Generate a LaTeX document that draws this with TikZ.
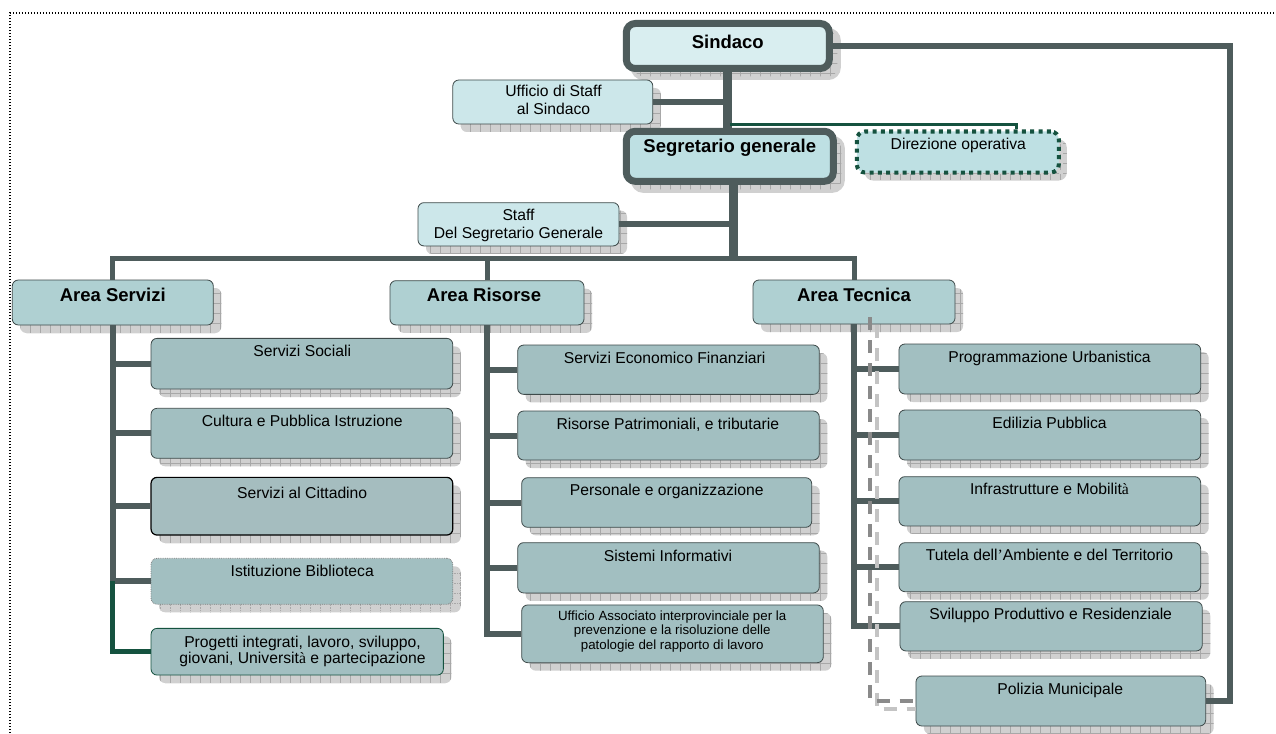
\documentclass[tikz,border=0pt]{standalone}
\usepackage{fontspec}
\setmainfont{Liberation Sans}
\newfontfamily\serifchar{Liberation Serif}
\usetikzlibrary{patterns.meta,shadows}
\definecolor{linec}{HTML}{4E5C5C}
\definecolor{greenc}{HTML}{15523F}
\definecolor{shfill}{HTML}{D0D0D0}
\definecolor{shline}{HTML}{A8A8A8}
\definecolor{bordc}{HTML}{3E4A4A}
\definecolor{fsind}{HTML}{D9EEF0}
\definecolor{fstaff}{HTML}{CCE7EA}
\definecolor{fseg}{HTML}{BEE0E3}
\definecolor{farea}{HTML}{AFD0D2}
\definecolor{funit}{HTML}{A2BFC1}
\definecolor{fcitt}{HTML}{A5BDBF}
\definecolor{dashc}{HTML}{8A8A8A}
\definecolor{dashsh}{HTML}{C4C4C4}
\tikzset{
  shpat/.style={general shadow={shadow xshift=8pt,shadow yshift=-8pt,opacity=1,draw=none,pattern={Hatch[distance=10pt,line width=0.6pt]},pattern color=shline}},
  shad/.style={general shadow={shadow xshift=8pt,shadow yshift=-8pt,opacity=1,fill=shfill,draw=none},shpat},
  thickshad/.style={general shadow={shadow xshift=8pt,shadow yshift=-8pt,opacity=1,fill=shfill,draw=shfill,line width=7pt},shpat},
  box/.style={shad,draw=bordc,line width=0.8pt,rounded corners=6pt,inner sep=0pt},
  sindbox/.style={thickshad,draw=linec,line width=7pt,rounded corners=9pt,fill=fsind,inner sep=0pt},
  segbox/.style={sindbox,fill=fseg},
  staffbox/.style={box,fill=fstaff},
  dirbox/.style={shad,draw=greenc,line width=4pt,dash pattern=on 4pt off 4.3pt,rounded corners=8pt,fill=fseg,inner sep=0pt},
  areabox/.style={box,fill=farea},
  unitbox/.style={box,fill=funit},
  cittbox/.style={box,fill=fcitt,draw=black,line width=1.2pt},
  bibbox/.style={box,fill=funit,draw=gray,densely dotted},
  progbox/.style={box,fill=funit,draw=greenc},
  rt/.style={anchor=base,inner sep=0pt,font=\fontsize{15.7}{18}\selectfont},
  bt/.style={anchor=base,inner sep=0pt,font=\fontsize{18.5}{22}\selectfont\bfseries},
  st/.style={anchor=base,inner sep=0pt,font=\fontsize{13.3}{16}\selectfont},
  trunk/.style={draw=linec,line width=9pt},
  conn/.style={draw=linec,line width=6pt},
  barline/.style={draw=linec,line width=5pt},
  gline/.style={draw=greenc,line width=3pt},
  gline2/.style={draw=greenc,line width=5pt},
  dline/.style={draw=dashc,line width=4pt,dash pattern=on 13pt off 10pt},
  dshadow/.style={draw=dashsh,line width=4pt,dash pattern=on 13pt off 10pt},
  frame/.style={line width=1.3pt,dash pattern=on 1.3pt off 1.7pt},
}
\begin{document}
\begin{tikzpicture}[x=1pt,y=-1pt]
\useasboundingbox (0,0) rectangle (1276,733);
\draw[frame] (10,733) -- (10,13) -- (1276,13);

% boxes
\node[sindbox,minimum width=203pt,minimum height=45pt] (sind) at (727.8,46) {};
\node[staffbox,minimum width=200pt,minimum height=44pt] (uff) at (552.8,102) {};
\node[segbox,minimum width=207pt,minimum height=50pt] (seg) at (729.8,156.3) {};
\node[dirbox,minimum width=202pt,minimum height=41pt] (dir) at (957.8,152) {};
\node[staffbox,minimum width=201pt,minimum height=43.3pt] (staff) at (518.5,224.3) {};
\node[areabox,minimum width=201pt,minimum height=45pt] (aserv) at (112.8,302.5) {};
\node[areabox,minimum width=194pt,minimum height=44.3pt] (aris) at (487,302.8) {};
\node[areabox,minimum width=202pt,minimum height=44pt] (atec) at (854,302) {};

\node[unitbox,minimum width=301.7pt,minimum height=50.7pt] (ssoc) at (301.9,363.7) {};
\node[unitbox,minimum width=301.7pt,minimum height=50pt] (cult) at (301.9,433.3) {};
\node[cittbox,minimum width=301.7pt,minimum height=57.7pt] (citt) at (301.9,506.2) {};
\node[bibbox,minimum width=301.7pt,minimum height=46pt] (bib) at (301.9,581.3) {};
\node[progbox,minimum width=292.3pt,minimum height=46.7pt] (prog) at (297.2,651.7) {};

\node[unitbox,minimum width=301.6pt,minimum height=49.3pt] (sef) at (668.5,369.7) {};
\node[unitbox,minimum width=301.6pt,minimum height=49pt] (rpt) at (668.5,435.5) {};
\node[unitbox,minimum width=290pt,minimum height=49.6pt] (pers) at (666.7,502.5) {};
\node[unitbox,minimum width=301.6pt,minimum height=50.3pt] (sinf) at (668.5,567.8) {};
\node[unitbox,minimum width=301.6pt,minimum height=57.7pt] (uaip) at (672.5,633.8) {};

\node[unitbox,minimum width=301.7pt,minimum height=50pt] (purb) at (1049.8,369) {};
\node[unitbox,minimum width=301.7pt,minimum height=50pt] (edil) at (1049.8,435) {};
\node[unitbox,minimum width=301.7pt,minimum height=49.3pt] (infr) at (1049.8,501.3) {};
\node[unitbox,minimum width=301.7pt,minimum height=49pt] (tut) at (1049.8,567.2) {};
\node[unitbox,minimum width=302.3pt,minimum height=49.3pt] (svil) at (1051.1,626.3) {};
\node[unitbox,minimum width=289.7pt,minimum height=50pt] (pol) at (1060.8,701) {};

% texts
\node[bt] (sind-t) at (727.8,48.5) {Sindaco};
\node[rt] (uff-t1) at (553.5,96.7) {Ufficio di Staff};
\node[rt] (uff-t2) at (553.5,115) {al Sindaco};
\node[bt] (seg-t) at (729.8,152.7) {Segretario generale};
\node[rt] (dir-t) at (958.3,149.3) {Direzione operativa};
\node[rt] (staff-t1) at (518.5,220) {Staff};
\node[rt] (staff-t2) at (518.5,238.3) {Del Segretario Generale};
\node[bt] (aserv-t) at (112.8,301) {Area Servizi};
\node[bt] (aris-t) at (484,301) {Area Risorse};
\node[bt] (atec-t) at (854,301) {Area Tecnica};

\node[rt] (ssoc-t) at (302.2,356.5) {Servizi Sociali};
\node[rt] (cult-t) at (302.2,426) {Cultura e Pubblica Istruzione};
\node[rt] (citt-t) at (302.2,498) {Servizi al Cittadino};
\node[rt] (bib-t) at (302.2,576.7) {Istituzione Biblioteca};
\node[rt] (prog-t1) at (302.5,647.5) {Progetti integrati, lavoro, sviluppo,};
\node[rt] (prog-t2) at (302.5,663.5) {giovani, Universit{\serifchar à} e partecipazione};

\node[rt] (sef-t) at (664.7,363.5) {Servizi Economico Finanziari};
\node[rt] (rpt-t) at (667.8,429) {Risorse Patrimoniali, e tributarie};
\node[rt] (pers-t) at (666.7,495) {Personale e organizzazione};
\node[rt] (sinf-t) at (668,561) {Sistemi Informativi};
\node[st] (uaip-t1) at (672.2,620.5) {Ufficio Associato interprovinciale per la};
\node[st] (uaip-t2) at (672.2,634.8) {prevenzione e la risoluzione delle};
\node[st] (uaip-t3) at (672.2,649) {patologie del rapporto di lavoro};

\node[rt] (purb-t) at (1049.5,362.3) {Programmazione Urbanistica};
\node[rt] (edil-t) at (1049.5,428.3) {Edilizia Pubblica};
\node[rt] (infr-t) at (1049.5,494) {Infrastrutture e Mobilit{\serifchar à}};
\node[rt] (tut-t) at (1049.5,560) {Tutela dell{\serifchar ’}Ambiente e del Territorio};
\node[rt] (svil-t) at (1050.7,619.3) {Sviluppo Produttivo e Residenziale};
\node[rt] (pol-t) at (1060.3,694) {Polizia Municipale};

% connectors
\coordinate (t2) at (733,258);
\coordinate (pr) at (1230,0);
\coordinate (dt) at (869.7,317);
\draw[trunk] (sind.south) -- (sind.south |- seg.north);
\draw[conn] (uff.east) -- (uff.east -| sind.south);
\draw[gline] ([yshift=3pt]seg.north) -| ([xshift=-44pt]dir.north east);
\draw[trunk] (seg.south -| t2) -- (t2);
\draw[conn] (staff.east) -- (staff.east -| t2);
\draw[barline] (aserv.north) |- (t2) -| (atec.north);
\draw[barline] (aris.north) -- (aris.north |- t2);
\foreach \c in {ssoc,cult,citt,bib} \draw[conn] (aserv.south) |- (\c.west);
\draw[gline2] (aserv.south |- bib.west) |- (prog.west);
\foreach \c in {sef,rpt,pers,sinf,uaip} \draw[conn] (aris.south) |- (\c.west);
\foreach \c in {purb,edil,infr,tut,svil} \draw[conn] (atec.south) |- (\c.west);
\draw[conn] (sind.east) -| (pr |- pol.east) -- (pol.east);
\draw[dshadow] ([shift={(7,8)}]dt) |- ([shift={(0,8)}]pol.west);
\draw[dline] (dt) |- (pol.west);
\end{tikzpicture}
\end{document}
